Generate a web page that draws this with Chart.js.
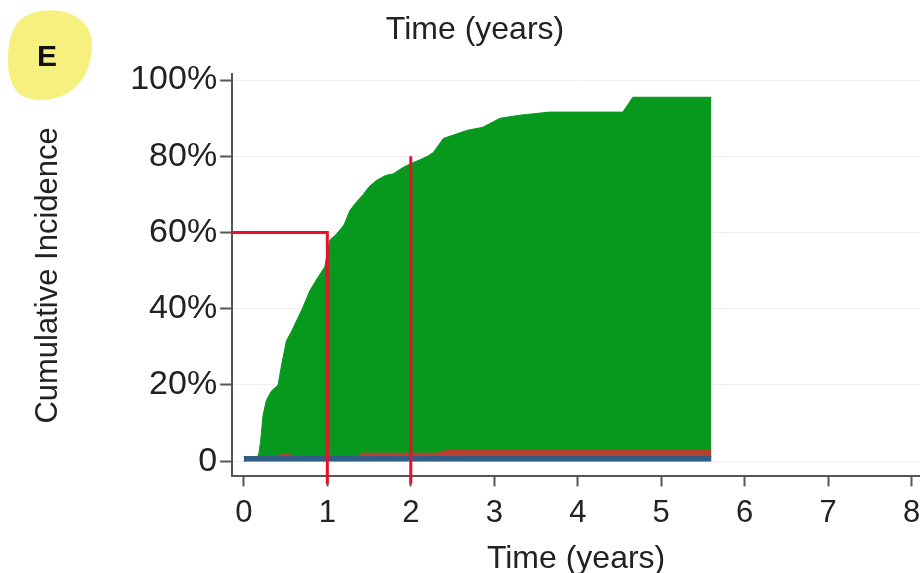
<!DOCTYPE html>
<html>
<head>
<meta charset="utf-8">
<script src="https://cdn.jsdelivr.net/npm/chart.js@4/dist/chart.umd.min.js"></script>
<style>
  html, body { margin: 0; padding: 0; background: #fff; }
  #wrap { width: 920px; height: 573px; }
</style>
</head>
<body>
<div id="wrap"><canvas id="cif"></canvas></div>
<script>
// green (total) cumulative incidence
const greenTimes = [0, 0.16, 0.18, 0.2, 0.23, 0.27, 0.33, 0.41, 0.45, 0.51, 0.57, 0.63, 0.7, 0.79, 0.88, 0.97, 1.03, 1.11, 1.2, 1.27, 1.35, 1.43, 1.5, 1.59, 1.7, 1.79, 1.9, 1.99, 2.1, 2.2, 2.27, 2.39, 2.5, 2.67, 2.86, 3.07, 3.31, 3.66, 4.54, 4.66, 5.6];
const greenVals = [0, 1, 2, 5, 12, 16, 18.4, 20, 25, 31.6, 34, 36.8, 40, 44.7, 48, 51, 58, 59.6, 62, 65.8, 68, 70, 72, 73.7, 75, 75.4, 77, 78, 79, 80, 81, 84.7, 85.5, 86.8, 87.6, 90, 90.8, 91.6, 91.6, 95.5, 95.5];

// red band (top edge)
const redTimes = [0, 0.4, 0.45, 0.55, 0.6, 1.37, 1.42, 2.3, 2.45, 5.6];
const redVals = [1.2, 1.2, 1.8, 1.8, 1.2, 1.2, 2.1, 2.1, 2.9, 2.9];

// blue band (top edge)
const blueTimes = [0, 5.6];
const blueVals = [1.2, 1.2];

// reference lines
const refLine1 = [[-0.14, 60], [1, 60], [1, -6]];
const refLine2 = [[2, 80], [2, -6]];

const yTicks = [0, 20, 40, 60, 80, 100];
const xTicks = [0, 1, 2, 3, 4, 5, 6, 7, 8];

const green = '#06991E';
const red = '#B8402F';
const blue = '#2F5E86';
const refRed = '#E8102A';
const axisGrey = '#555';
const fontFamily = "'Liberation Sans', Arial, sans-serif";

const toPts = (xs, ys) => xs.map((x, i) => ({ x: x, y: ys[i] }));
const pairs = (arr) => arr.map((p) => ({ x: p[0], y: p[1] }));

const blobPlugin = {
  id: 'blob',
  beforeDraw(chart) {
    const c = chart.ctx;
    c.save();
    c.fillStyle = '#F6F07E';
    c.beginPath();
    c.moveTo(30, 14);
    c.bezierCurveTo(56, 4, 93, 14, 92, 46);
    c.bezierCurveTo(91, 80, 70, 100, 40, 100);
    c.bezierCurveTo(14, 100, 7, 80, 8, 56);
    c.bezierCurveTo(9, 36, 14, 20, 30, 14);
    c.fill();
    c.fillStyle = '#111';
    c.font = 'bold 30px ' + fontFamily;
    c.textAlign = 'center';
    c.textBaseline = 'middle';
    c.fillText('E', 47, 58);
    c.restore();
  },
};

Chart.defaults.font.family = fontFamily;
Chart.defaults.color = '#222';

new Chart(document.getElementById('cif'), {
  type: 'line',
  data: {
    datasets: [
      {
        data: pairs(refLine1),
        borderColor: refRed,
        borderWidth: 3,
        fill: false,
        pointRadius: 0,
        clip: false,
      },
      {
        data: pairs(refLine2),
        borderColor: refRed,
        borderWidth: 3,
        fill: false,
        pointRadius: 0,
        clip: false,
      },
      {
        data: toPts(blueTimes, blueVals),
        borderColor: blue,
        backgroundColor: blue,
        borderWidth: 1,
        fill: 'origin',
        pointRadius: 0,
      },
      {
        data: toPts(redTimes, redVals),
        borderColor: red,
        backgroundColor: red,
        borderWidth: 1,
        fill: 'origin',
        pointRadius: 0,
      },
      {
        data: toPts(greenTimes, greenVals),
        borderColor: green,
        backgroundColor: green,
        borderWidth: 1,
        fill: 'origin',
        pointRadius: 0,
      },
    ],
  },
  options: {
    responsive: true,
    maintainAspectRatio: false,
    animation: false,
    layout: {
      padding: { top: 6, left: 30, right: 0, bottom: -5 },
    },
    plugins: {
      legend: { display: false },
      tooltip: { enabled: false },
      title: {
        display: true,
        text: 'Time (years)',
        color: '#222',
        font: { size: 32, weight: 'normal' },
        padding: { top: 5, bottom: 25 },
      },
    },
    scales: {
      x: {
        type: 'linear',
        min: -0.14,
        max: 8.1,
        afterBuildTicks(scale) {
          scale.ticks = xTicks.map((v) => ({ value: v }));
        },
        // let the last label run off the right edge like the original
        afterFit(scale) {
          scale.paddingRight = 0;
        },
        border: { color: axisGrey, width: 2 },
        grid: {
          drawOnChartArea: false,
          drawTicks: true,
          tickLength: 10,
          tickColor: axisGrey,
          tickWidth: 2,
        },
        ticks: {
          font: { size: 31 },
          padding: 8,
          maxRotation: 0,
        },
        title: {
          display: true,
          text: 'Time (years)',
          color: '#222',
          font: { size: 32 },
          padding: { top: 0, bottom: 0 },
        },
      },
      y: {
        type: 'linear',
        min: -4,
        max: 101.5,
        afterBuildTicks(scale) {
          scale.ticks = yTicks.map((v) => ({ value: v }));
        },
        border: { color: axisGrey, width: 2 },
        grid: {
          color: '#EEEEEE',
          lineWidth: 1,
          tickLength: 12,
          tickColor: axisGrey,
          tickWidth: 2,
        },
        ticks: {
          font: { size: 34 },
          padding: 3,
          callback: (v) => (v === 0 ? '0' : v + '%'),
        },
        title: {
          display: true,
          text: 'Cumulative Incidence',
          color: '#222',
          font: { size: 31 },
          padding: { top: 0, bottom: 60 },
        },
      },
    },
  },
  plugins: [blobPlugin],
});
</script>
</body>
</html>
